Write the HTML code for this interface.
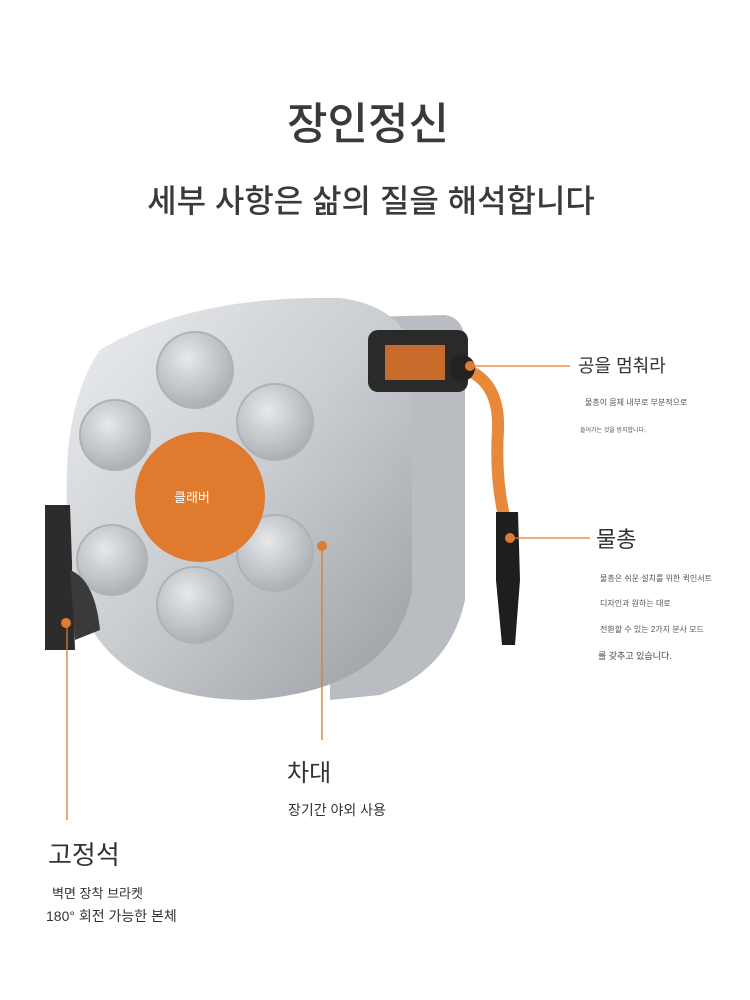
<!DOCTYPE html>
<html><head><meta charset="utf-8"><style>
body{margin:0;width:750px;height:1000px;background:#fff;position:relative;overflow:hidden;font-family:"Liberation Sans","Noto Sans CJK KR",sans-serif;color:#333}
.t{position:absolute;white-space:nowrap}
</style></head><body>
<div class="t" style="left:0;width:736px;text-align:center;top:88px;font-size:44px;color:#3a3a3a;font-weight:500">장인정신</div>
<div class="t" style="left:0;width:742px;text-align:center;top:176px;font-size:32px;color:#3a3a3a;font-weight:500">세부 사항은 삶의 질을 해석합니다</div>
<svg style="position:absolute;left:0;top:0" width="750" height="1000">
<defs>
<linearGradient id="g" x1="0" y1="0" x2="1" y2="1"><stop offset="0" stop-color="#eceef0"/><stop offset=".5" stop-color="#c9ccd0"/><stop offset="1" stop-color="#9a9ea3"/></linearGradient>
<radialGradient id="h" cx=".4" cy=".35" r=".7"><stop offset="0" stop-color="#e6e8ea"/><stop offset="1" stop-color="#a8acb1"/></radialGradient>
</defs>
<path d="M330 318 L445 315 Q465 318 465 345 L465 600 Q450 670 380 695 L330 700 Z" fill="#b9bcc1"/>
<path d="M100 350 Q190 295 340 298 Q395 305 412 345 L412 590 Q395 690 250 700 Q120 700 82 610 Q62 540 68 450 Q75 385 100 350Z" fill="url(#g)"/>
<g fill="url(#h)" stroke="#aeb2b7" stroke-width="2">
<circle cx="195" cy="370" r="38"/><circle cx="275" cy="422" r="38"/><circle cx="275" cy="553" r="38"/>
<circle cx="195" cy="605" r="38"/><circle cx="112" cy="560" r="35"/><circle cx="115" cy="435" r="35"/>
</g>
<circle cx="200" cy="497" r="65" fill="#e07a2e"/>
<rect x="368" y="330" width="100" height="62" rx="10" fill="#2a2a2a"/>
<rect x="385" y="345" width="60" height="35" fill="#c86a2a"/>
<path d="M462 368 Q500 380 498 430 Q495 480 505 520" stroke="#e8883a" stroke-width="12" fill="none"/>
<circle cx="462" cy="368" r="13" fill="#222"/>
<path d="M496 512 L518 512 L520 580 L515 645 L502 645 L496 580 Z" fill="#1e1e1e"/>
<path d="M45 505 L70 505 L75 650 L45 650 Z" fill="#2c2c2c"/>
<path d="M70 570 Q95 580 100 630 L75 640 Z" fill="#3a3a3a"/>
<g stroke="#e07a2e" stroke-width="1.3" fill="none">
<line x1="470" y1="366" x2="570" y2="366"/><line x1="512" y1="538" x2="590" y2="538"/>
<line x1="322" y1="548" x2="322" y2="740"/><line x1="67" y1="625" x2="67" y2="820"/>
</g>
<g fill="#e07a2e"><circle cx="470" cy="366" r="5"/><circle cx="510" cy="538" r="5"/><circle cx="322" cy="546" r="5"/><circle cx="66" cy="623" r="5"/></g>
</svg>
<div class="t" style="left:174px;top:487px;font-size:13px;color:#fff">클래버</div>
<div class="t" style="left:578px;top:352px;font-size:18px">공을 멈춰라</div>
<div class="t" style="left:585px;top:397px;font-size:8px;color:#555">물총이 몸체 내부로 부분적으로</div>
<div class="t" style="left:580px;top:425px;font-size:6px;color:#555">들어가는 것을 방지합니다.</div>
<div class="t" style="left:596px;top:522px;font-size:22px">물총</div>
<div class="t" style="left:600px;top:573px;font-size:8px;color:#555">물총은 쉬운 설치를 위한 퀵인서트</div>
<div class="t" style="left:600px;top:598px;font-size:8px;color:#555">디자인과 원하는 대로</div>
<div class="t" style="left:600px;top:624px;font-size:8px;color:#555">전환할 수 있는 2가지 분사 모드</div>
<div class="t" style="left:598px;top:649px;font-size:9px;color:#444">를 갖추고 있습니다.</div>
<div class="t" style="left:287px;top:753px;font-size:24px">차대</div>
<div class="t" style="left:288px;top:800px;font-size:14px">장기간 야외 사용</div>
<div class="t" style="left:48px;top:835px;font-size:26px">고정석</div>
<div class="t" style="left:52px;top:883px;font-size:13px">벽면 장착 브라켓</div>
<div class="t" style="left:46px;top:906px;font-size:14px">180° 회전 가능한 본체</div>
</body></html>
